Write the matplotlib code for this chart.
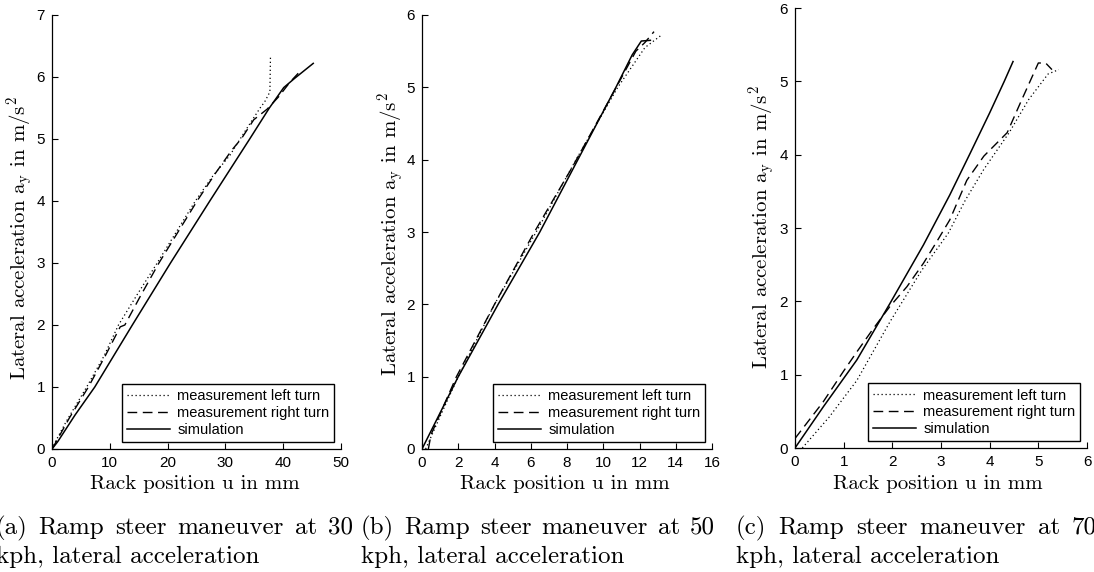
import matplotlib
matplotlib.use("Agg")
import matplotlib.pyplot as plt

plt.rcParams["mathtext.fontset"] = "cm"
plt.rcParams["font.family"] = ["Liberation Sans", "DejaVu Sans"]

W, H = 1094, 572

# ramp steer at 30 kph
a_left_x = [0, 0.6, 2.5, 6.0, 9.0, 11.5, 14.8, 18.2, 21.5, 24.8, 27.8, 30.8, 33.7, 36.0, 36.8, 37.7, 37.8]
a_left_y = [0, 0.12, 0.45, 1.0, 1.5, 2.0, 2.5, 3.0, 3.5, 4.0, 4.4, 4.74, 5.17, 5.5, 5.6, 5.76, 6.35]
a_right_x = [0, 0.5, 3.0, 6.3, 9.2, 11.8, 12.6, 15.2, 18.5, 21.8, 25.1, 28.3, 31.1, 32.8, 34.9, 37.2, 39.2, 41.2, 42.6]
a_right_y = [0, 0.08, 0.5, 1.0, 1.5, 1.97, 2.0, 2.45, 3.0, 3.5, 4.0, 4.45, 4.82, 5.01, 5.31, 5.48, 5.68, 5.92, 6.06]
a_sim_x = [0, 1.0, 4.0, 7.4, 13.9, 20.5, 27.3, 34.2, 37.6, 40.1, 42.0, 45.2]
a_sim_y = [0, 0.12, 0.55, 1.0, 2.0, 3.0, 4.0, 5.0, 5.5, 5.83, 5.98, 6.22]

# ramp steer at 50 kph
b_left_x = [0.2, 1.0, 2.0, 4.0, 6.3, 8.5, 10.8, 12.3, 13.2]
b_left_y = [0, 0.45, 1.0, 2.0, 3.0, 4.0, 5.0, 5.55, 5.72]
b_right_x = [0.35, 0.5, 1.9, 4.0, 6.2, 8.3, 10.5, 11.8, 12.3, 12.8]
b_right_y = [0, 0.2, 1.0, 2.0, 3.0, 3.9, 4.9, 5.5, 5.62, 5.77]
b_sim_x = [0, 2.0, 4.2, 6.5, 8.6, 10.7, 11.6, 12.1, 12.6]
b_sim_y = [0, 1.0, 2.0, 3.0, 4.0, 5.0, 5.45, 5.64, 5.65]

# ramp steer at 70 kph
c_left_x = [0.15, 0.7, 1.27, 1.95, 2.6, 3.15, 3.5, 3.88, 4.4, 4.8, 5.2, 5.42]
c_left_y = [0, 0.42, 0.92, 1.72, 2.42, 2.93, 3.38, 3.8, 4.3, 4.75, 5.1, 5.16]
c_right_x = [0, 0.58, 1.0, 1.27, 1.6, 1.95, 2.3, 2.64, 2.9, 3.18, 3.53, 3.88, 4.36, 4.66, 5.0, 5.15, 5.28]
c_right_y = [0.13, 0.63, 1.05, 1.31, 1.62, 1.93, 2.2, 2.52, 2.8, 3.11, 3.65, 3.98, 4.3, 4.75, 5.25, 5.25, 5.16]
c_sim_x = [0, 0.58, 1.27, 1.95, 2.64, 3.18, 3.6, 4.0, 4.3, 4.48]
c_sim_y = [0, 0.56, 1.2, 1.97, 2.77, 3.45, 4.02, 4.57, 5.0, 5.27]

panels = [
    dict(box=(52, 15, 341, 449), xlim=(0, 50), xt=range(0, 51, 10), ylim=(0, 7), yt=range(0, 8),
         left=(a_left_x, a_left_y), right=(a_right_x, a_right_y), sim=(a_sim_x, a_sim_y),
         ylab=(20.5, 238), xlab=194.5,
         cap=("(a) Ramp steer maneuver at 30", -4, 353)),
    dict(box=(422, 15, 712, 449), xlim=(0, 16), xt=range(0, 17, 2), ylim=(0, 6), yt=range(0, 7),
         left=(b_left_x, b_left_y), right=(b_right_x, b_right_y), sim=(b_sim_x, b_sim_y),
         ylab=(391.5, 234.5), xlab=565,
         cap=("(b) Ramp steer maneuver at 50", 361, 715)),
    dict(box=(795, 8, 1087, 448), xlim=(0, 6), xt=range(0, 7), ylim=(0, 6), yt=range(0, 7),
         left=(c_left_x, c_left_y), right=(c_right_x, c_right_y), sim=(c_sim_x, c_sim_y),
         ylab=(762.5, 227.5), xlab=938,
         cap=("(c) Ramp steer maneuver at 70", 736, 1097)),
]

fig = plt.figure(figsize=(W / 100, H / 100), dpi=100)
renderer = fig.canvas.get_renderer()
serif = dict(family="cmr10")

for p in panels:
    x0, y0, x1, y1 = p["box"]
    ax = fig.add_axes([x0 / W, 1 - y1 / H, (x1 - x0) / W, (y1 - y0) / H])
    ax.plot(*p["left"], color="k", lw=0.9, linestyle=(0, (1, 2.2)), label="measurement left turn")
    ax.plot(*p["right"], color="k", lw=1.0, dashes=(7, 4), label="measurement right turn")
    ax.plot(*p["sim"], color="k", lw=1.1, label="simulation")
    ax.set_xlim(p["xlim"])
    ax.set_ylim(p["ylim"])
    ax.set_xticks(list(p["xt"]))
    ax.set_yticks(list(p["yt"]))
    for s in ("top", "right"):
        ax.spines[s].set_visible(False)
    for s in ("left", "bottom"):
        ax.spines[s].set_linewidth(0.9)
    ax.tick_params(direction="in", length=4, width=0.8, labelsize=11, pad=5)
    leg = ax.legend(loc="lower right", fontsize=10.5, frameon=True, fancybox=False,
                    edgecolor="k", framealpha=1, handlelength=2.95, handletextpad=0.5,
                    borderpad=0.35, labelspacing=0.2, borderaxespad=0.45)
    leg.get_frame().set_linewidth(1.0)

    fig.text(p["ylab"][0] / W, 1 - p["ylab"][1] / H,
             r"Lateral acceleration $\mathrm{a_y}$ in $\mathrm{m/s^2}$",
             rotation=90, ha="center", va="center", fontsize=15, **serif)
    fig.text(p["xlab"] / W, 1 - 489 / H, "Rack position u in mm",
             ha="center", va="baseline", fontsize=15, **serif)

    # justified first caption line, flush-left second line
    text, cx0, cx1 = p["cap"]
    words = [fig.text(0, 1 - 534 / H, w, ha="left", va="baseline", fontsize=18, **serif)
             for w in text.split()]
    widths = [t.get_window_extent(renderer).width for t in words]
    gap = (cx1 - cx0 - sum(widths)) / (len(words) - 1)
    x = cx0
    for t, w in zip(words, widths):
        t.set_x(x / W)
        x += w + gap
    fig.text(cx0 / W, 1 - 563 / H, "kph, lateral acceleration",
             ha="left", va="baseline", fontsize=18, **serif)

fig.savefig("out.png", dpi=100)
